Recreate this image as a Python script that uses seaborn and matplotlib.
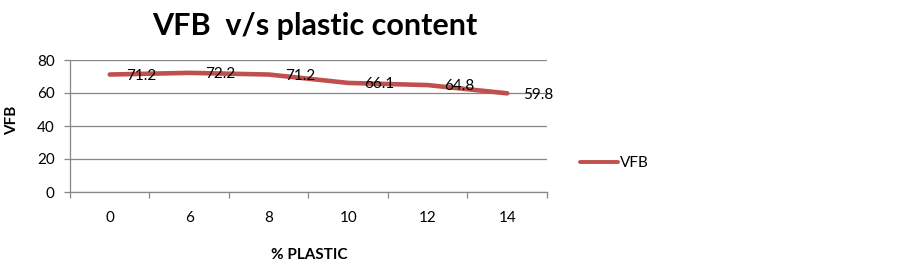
import matplotlib
matplotlib.use("Agg")
import matplotlib.pyplot as plt
import seaborn as sns
import pandas as pd

categories = ["0", "6", "8", "10", "12", "14"]
vfb = [71.2, 72.2, 71.2, 66.1, 64.8, 59.8]
y_ticks = [0, 20, 40, 60, 80]

sns.set_theme(style="white")
plt.rcParams["font.family"] = ["Lato", "DejaVu Sans"]
plt.rcParams["text.color"] = "black"
plt.rcParams["xtick.labelcolor"] = "black"
plt.rcParams["ytick.labelcolor"] = "black"

df = pd.DataFrame({"x": list(range(len(categories))), "VFB": vfb})

W, H = 899, 266
fig = plt.figure(figsize=(W / 100, H / 100), dpi=100)
L, R, T, B = 70, 547, 60, 192
ax = fig.add_axes([L / W, 1 - B / H, (R - L) / W, (B - T) / H])

sns.lineplot(data=df, x="x", y="VFB", ax=ax, color="#C0504D", linewidth=3.3,
             label="VFB", legend=False)

for xi, v in zip(df["x"], vfb):
    ax.annotate(f"{v}", (xi, v), xytext=(11.5, -1), textcoords="offset points",
                ha="left", va="center", fontsize=11, color="black")

ax.set_xlim(-0.5, len(categories) - 0.5)
ax.set_ylim(0, 80)
ax.set_yticks(y_ticks)
ax.set_yticklabels([str(t) for t in y_ticks], fontsize=11)
ax.yaxis.grid(True, color="#868686", linewidth=0.9)
ax.set_axisbelow(True)

ax.set_xticks([i - 0.5 for i in range(len(categories) + 1)])
ax.set_xticklabels([])
ax.set_xticks(list(range(len(categories))), minor=True)
ax.set_xticklabels(categories, minor=True, fontsize=11)
ax.tick_params(axis="x", which="major", direction="out", length=4, color="#868686", width=0.9, bottom=True)
ax.tick_params(axis="x", which="minor", length=0, pad=14, labelcolor="black")
ax.tick_params(axis="y", direction="out", length=4, color="#868686", width=0.9, left=True, pad=7, labelcolor="black")

for s in ["top", "right"]:
    ax.spines[s].set_visible(False)
for s in ["left", "bottom"]:
    ax.spines[s].set_color("#868686")
    ax.spines[s].set_linewidth(0.9)

ax.set_xlabel("")
ax.set_ylabel("")
fig.text(309 / W, 1 - 255 / H, "% PLASTIC", ha="center", va="center",
         fontsize=11, fontweight="bold", color="black")
fig.text(12 / W, 1 - 120 / H, "VFB", ha="center", va="center", rotation=90,
         fontsize=11, fontweight="bold", color="black")

fig.text(315 / W, 1 - 35 / H, "VFB  v/s plastic content", ha="center", va="baseline",
         fontsize=22, fontweight="bold", color="black")

handles, labels = ax.get_legend_handles_labels()
leg = fig.legend(handles, labels, loc="center left", bbox_to_anchor=(566 / W, 1 - 163 / H),
                 frameon=False, fontsize=11, handlelength=2.5, handletextpad=0.1)
for t in leg.get_texts():
    t.set_color("black")
for ln in leg.get_lines():
    ln.set_linewidth(2.8)

fig.savefig("out.png", dpi=100)
